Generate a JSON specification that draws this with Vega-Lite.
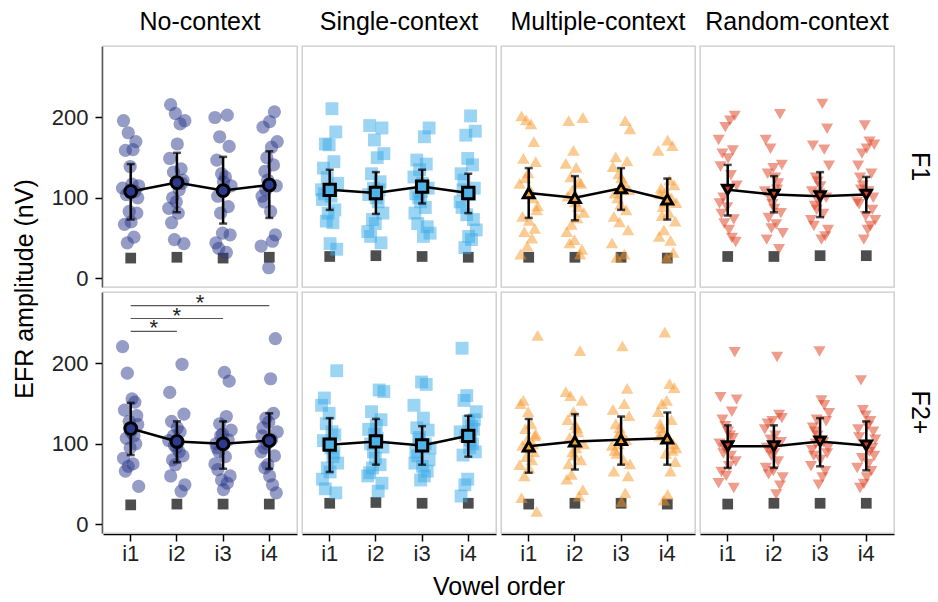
{
"$schema": "https://vega.github.io/schema/vega-lite/v6.json",
"background": "white",
"padding": {"left": 12, "top": 10, "right": 5, "bottom": 0},
"config": {"font": "Liberation Sans", "view": {"stroke": "#c9c9c9", "strokeWidth": 1.3, "fill": "white"}},
"data": {"values": "t,c,f,v,y,s,lo,hi,v2,m\np,N,F1,i1,112,2\np,N,F1,i1,196,3\np,N,F1,i1,67,4\np,N,F1,i1,159,5\np,N,F1,i1,104,6\np,N,F1,i1,44,7\np,N,F1,i1,181,8\np,N,F1,i1,83,9\np,N,F1,i1,139,10\np,N,F1,i1,70,11\np,N,F1,i1,117,12\np,N,F1,i1,160,13\np,N,F1,i1,51,14\np,N,F1,i1,108,15\np,N,F1,i1,170,16\np,N,F1,i1,81,17\np,N,F1,i1,100,18\np,N,F1,i1,115,19\np,N,F1,i2,87,2\np,N,F1,i2,149,3\np,N,F1,i2,216,4\np,N,F1,i2,69,5\np,N,F1,i2,100,6\np,N,F1,i2,132,7\np,N,F1,i2,48,8\np,N,F1,i2,205,9\np,N,F1,i2,95,10\np,N,F1,i2,167,11\np,N,F1,i2,81,12\np,N,F1,i2,110,13\np,N,F1,i2,192,14\np,N,F1,i2,136,15\np,N,F1,i2,118,16\np,N,F1,i2,122,17\np,N,F1,i2,43,18\np,N,F1,i2,196,19\np,N,F1,i3,200,2\np,N,F1,i3,44,3\np,N,F1,i3,147,4\np,N,F1,i3,102,5\np,N,F1,i3,37,6\np,N,F1,i3,176,7\np,N,F1,i3,81,8\np,N,F1,i3,130,9\np,N,F1,i3,56,10\np,N,F1,i3,120,11\np,N,F1,i3,110,12\np,N,F1,i3,126,13\np,N,F1,i3,32,14\np,N,F1,i3,203,15\np,N,F1,i3,89,16\np,N,F1,i3,164,17\np,N,F1,i3,54,18\np,N,F1,i3,115,19\np,N,F1,i4,40,2\np,N,F1,i4,102,3\np,N,F1,i4,188,4\np,N,F1,i4,95,5\np,N,F1,i4,133,6\np,N,F1,i4,110,7\np,N,F1,i4,150,8\np,N,F1,i4,122,9\np,N,F1,i4,13,10\np,N,F1,i4,195,11\np,N,F1,i4,83,12\np,N,F1,i4,163,13\np,N,F1,i4,46,14\np,N,F1,i4,141,15\np,N,F1,i4,207,16\np,N,F1,i4,54,17\np,N,F1,i4,115,18\np,N,F1,i4,170,19\np,S,F1,i1,110,2\np,S,F1,i1,98,3\np,S,F1,i1,137,4\np,S,F1,i1,105,5\np,S,F1,i1,167,6\np,S,F1,i1,71,7\np,S,F1,i1,125,8\np,S,F1,i1,81,9\np,S,F1,i1,166,10\np,S,F1,i1,43,11\np,S,F1,i1,102,12\np,S,F1,i1,211,13\np,S,F1,i1,69,14\np,S,F1,i1,145,15\np,S,F1,i1,85,16\np,S,F1,i1,182,17\np,S,F1,i1,36,18\np,S,F1,i1,118,19\np,S,F1,i2,58,2\np,S,F1,i2,104,3\np,S,F1,i2,190,4\np,S,F1,i2,52,5\np,S,F1,i2,130,6\np,S,F1,i2,73,7\np,S,F1,i2,112,8\np,S,F1,i2,172,9\np,S,F1,i2,68,10\np,S,F1,i2,100,11\np,S,F1,i2,150,12\np,S,F1,i2,95,13\np,S,F1,i2,110,14\np,S,F1,i2,120,15\np,S,F1,i2,44,16\np,S,F1,i2,187,17\np,S,F1,i2,81,18\np,S,F1,i2,155,19\np,S,F1,i3,126,2\np,S,F1,i3,81,3\np,S,F1,i3,105,4\np,S,F1,i3,147,5\np,S,F1,i3,68,6\np,S,F1,i3,100,7\np,S,F1,i3,135,8\np,S,F1,i3,95,9\np,S,F1,i3,108,10\np,S,F1,i3,118,11\np,S,F1,i3,52,12\np,S,F1,i3,176,13\np,S,F1,i3,88,14\np,S,F1,i3,142,15\np,S,F1,i3,64,16\np,S,F1,i3,112,17\np,S,F1,i3,187,18\np,S,F1,i3,56,19\np,S,F1,i4,95,2\np,S,F1,i4,130,3\np,S,F1,i4,88,4\np,S,F1,i4,110,5\np,S,F1,i4,122,6\np,S,F1,i4,38,7\np,S,F1,i4,178,8\np,S,F1,i4,79,9\np,S,F1,i4,149,10\np,S,F1,i4,52,11\np,S,F1,i4,104,12\np,S,F1,i4,202,13\np,S,F1,i4,48,14\np,S,F1,i4,141,15\np,S,F1,i4,73,16\np,S,F1,i4,112,17\np,S,F1,i4,183,18\np,S,F1,i4,60,19\np,M,F1,i1,118,1\np,M,F1,i1,30,2\np,M,F1,i1,202,3\np,M,F1,i1,77,4\np,M,F1,i1,149,5\np,M,F1,i1,58,6\np,M,F1,i1,125,7\np,M,F1,i1,197,8\np,M,F1,i1,40,9\np,M,F1,i1,131,10\np,M,F1,i1,72,11\np,M,F1,i1,110,12\np,M,F1,i1,192,13\np,M,F1,i1,50,14\np,M,F1,i1,100,15\np,M,F1,i1,170,16\np,M,F1,i1,62,17\np,M,F1,i1,145,18\np,M,F1,i1,85,19\np,M,F1,i1,90,20\np,M,F1,i2,143,1\np,M,F1,i2,58,2\np,M,F1,i2,102,3\np,M,F1,i2,196,4\np,M,F1,i2,44,5\np,M,F1,i2,126,6\np,M,F1,i2,67,7\np,M,F1,i2,110,8\np,M,F1,i2,159,9\np,M,F1,i2,48,10\np,M,F1,i2,95,11\np,M,F1,i2,138,12\np,M,F1,i2,75,13\np,M,F1,i2,89,14\np,M,F1,i2,120,15\np,M,F1,i2,30,16\np,M,F1,i2,118,17\np,M,F1,i2,36,18\np,M,F1,i2,200,19\np,M,F1,i2,82,20\np,M,F1,i3,44,1\np,M,F1,i3,139,2\np,M,F1,i3,77,3\np,M,F1,i3,106,4\np,M,F1,i3,151,5\np,M,F1,i3,26,6\np,M,F1,i3,100,7\np,M,F1,i3,130,8\np,M,F1,i3,70,9\np,M,F1,i3,92,10\np,M,F1,i3,125,11\np,M,F1,i3,115,12\np,M,F1,i3,120,13\np,M,F1,i3,30,14\np,M,F1,i3,196,15\np,M,F1,i3,85,16\np,M,F1,i3,146,17\np,M,F1,i3,60,18\np,M,F1,i3,110,19\np,M,F1,i3,186,20\np,M,F1,i4,159,1\np,M,F1,i4,52,2\np,M,F1,i4,105,3\np,M,F1,i4,112,4\np,M,F1,i4,78,5\np,M,F1,i4,89,6\np,M,F1,i4,60,7\np,M,F1,i4,95,8\np,M,F1,i4,108,9\np,M,F1,i4,26,10\np,M,F1,i4,172,11\np,M,F1,i4,82,12\np,M,F1,i4,122,13\np,M,F1,i4,47,14\np,M,F1,i4,100,15\np,M,F1,i4,165,16\np,M,F1,i4,32,17\np,M,F1,i4,116,18\np,M,F1,i4,71,19\np,M,F1,i4,94,20\np,R,F1,i1,172,1\np,R,F1,i1,93,2\np,R,F1,i1,139,3\np,R,F1,i1,80,4\np,R,F1,i1,155,5\np,R,F1,i1,100,6\np,R,F1,i1,68,7\np,R,F1,i1,188,8\np,R,F1,i1,110,9\np,R,F1,i1,88,10\np,R,F1,i1,149,11\np,R,F1,i1,60,12\np,R,F1,i1,196,13\np,R,F1,i1,128,14\np,R,F1,i1,50,15\np,R,F1,i1,159,16\np,R,F1,i1,73,17\np,R,F1,i1,202,18\np,R,F1,i1,45,19\np,R,F1,i1,115,20\np,R,F1,i2,108,1\np,R,F1,i2,172,2\np,R,F1,i2,48,3\np,R,F1,i2,130,4\np,R,F1,i2,75,5\np,R,F1,i2,100,6\np,R,F1,i2,161,7\np,R,F1,i2,62,8\np,R,F1,i2,92,9\np,R,F1,i2,137,10\np,R,F1,i2,86,11\np,R,F1,i2,125,12\np,R,F1,i2,67,13\np,R,F1,i2,110,14\np,R,F1,i2,118,15\np,R,F1,i2,36,16\np,R,F1,i2,204,17\np,R,F1,i2,81,18\np,R,F1,i2,141,19\np,R,F1,i2,56,20\np,R,F1,i3,72,1\np,R,F1,i3,108,2\np,R,F1,i3,165,3\np,R,F1,i3,65,4\np,R,F1,i3,90,5\np,R,F1,i3,125,6\np,R,F1,i3,85,7\np,R,F1,i3,120,8\np,R,F1,i3,95,9\np,R,F1,i3,105,10\np,R,F1,i3,114,11\np,R,F1,i3,48,12\np,R,F1,i3,217,13\np,R,F1,i3,80,14\np,R,F1,i3,160,15\np,R,F1,i3,52,16\np,R,F1,i3,100,17\np,R,F1,i3,186,18\np,R,F1,i3,60,19\np,R,F1,i3,140,20\np,R,F1,i4,95,1\np,R,F1,i4,140,2\np,R,F1,i4,92,3\np,R,F1,i4,125,4\np,R,F1,i4,110,5\np,R,F1,i4,155,6\np,R,F1,i4,115,7\np,R,F1,i4,48,8\np,R,F1,i4,190,9\np,R,F1,i4,77,10\np,R,F1,i4,161,11\np,R,F1,i4,60,12\np,R,F1,i4,108,13\np,R,F1,i4,170,14\np,R,F1,i4,65,15\np,R,F1,i4,130,16\np,R,F1,i4,85,17\np,R,F1,i4,100,18\np,R,F1,i4,166,19\np,R,F1,i4,72,20\np,N,F2+,i1,221,2\np,N,F2+,i1,82,3\np,N,F2+,i1,142,4\np,N,F2+,i1,66,5\np,N,F2+,i1,107,6\np,N,F2+,i1,188,7\np,N,F2+,i1,72,8\np,N,F2+,i1,128,9\np,N,F2+,i1,95,10\np,N,F2+,i1,115,11\np,N,F2+,i1,156,12\np,N,F2+,i1,75,13\np,N,F2+,i1,110,14\np,N,F2+,i1,152,15\np,N,F2+,i1,100,16\np,N,F2+,i1,135,17\np,N,F2+,i1,124,18\np,N,F2+,i1,47,19\np,N,F2+,i2,104,2\np,N,F2+,i2,164,3\np,N,F2+,i2,60,4\np,N,F2+,i2,128,5\np,N,F2+,i2,80,6\np,N,F2+,i2,110,7\np,N,F2+,i2,98,8\np,N,F2+,i2,74,9\np,N,F2+,i2,95,10\np,N,F2+,i2,120,11\np,N,F2+,i2,102,12\np,N,F2+,i2,90,13\np,N,F2+,i2,115,14\np,N,F2+,i2,41,15\np,N,F2+,i2,199,16\np,N,F2+,i2,85,17\np,N,F2+,i2,137,18\np,N,F2+,i2,49,19\np,N,F2+,i3,75,2\np,N,F2+,i3,100,3\np,N,F2+,i3,95,4\np,N,F2+,i3,68,5\np,N,F2+,i3,90,6\np,N,F2+,i3,125,7\np,N,F2+,i3,110,8\np,N,F2+,i3,55,9\np,N,F2+,i3,112,10\np,N,F2+,i3,43,11\np,N,F2+,i3,189,12\np,N,F2+,i3,84,13\np,N,F2+,i3,134,14\np,N,F2+,i3,51,15\np,N,F2+,i3,105,16\np,N,F2+,i3,178,17\np,N,F2+,i3,60,18\np,N,F2+,i3,117,19\np,N,F2+,i4,90,2\np,N,F2+,i4,110,3\np,N,F2+,i4,120,4\np,N,F2+,i4,95,5\np,N,F2+,i4,70,6\np,N,F2+,i4,132,7\np,N,F2+,i4,100,8\np,N,F2+,i4,74,9\np,N,F2+,i4,127,10\np,N,F2+,i4,60,11\np,N,F2+,i4,181,12\np,N,F2+,i4,105,13\np,N,F2+,i4,49,14\np,N,F2+,i4,138,15\np,N,F2+,i4,85,16\np,N,F2+,i4,231,17\np,N,F2+,i4,39,18\np,N,F2+,i4,115,19\np,S,F2+,i1,148,2\np,S,F2+,i1,56,3\np,S,F2+,i1,104,4\np,S,F2+,i1,157,5\np,S,F2+,i1,44,6\np,S,F2+,i1,125,7\np,S,F2+,i1,70,8\np,S,F2+,i1,100,9\np,S,F2+,i1,138,10\np,S,F2+,i1,65,11\np,S,F2+,i1,95,12\np,S,F2+,i1,115,13\np,S,F2+,i1,84,14\np,S,F2+,i1,89,15\np,S,F2+,i1,111,16\np,S,F2+,i1,39,17\np,S,F2+,i1,191,18\np,S,F2+,i1,76,19\np,S,F2+,i2,60,2\np,S,F2+,i2,118,3\np,S,F2+,i2,64,4\np,S,F2+,i2,100,5\np,S,F2+,i2,140,6\np,S,F2+,i2,70,7\np,S,F2+,i2,90,8\np,S,F2+,i2,112,9\np,S,F2+,i2,82,10\np,S,F2+,i2,123,11\np,S,F2+,i2,107,12\np,S,F2+,i2,41,13\np,S,F2+,i2,167,14\np,S,F2+,i2,74,15\np,S,F2+,i2,130,16\np,S,F2+,i2,51,17\np,S,F2+,i2,96,18\np,S,F2+,i2,165,19\np,S,F2+,i3,148,2\np,S,F2+,i3,76,3\np,S,F2+,i3,90,4\np,S,F2+,i3,120,5\np,S,F2+,i3,85,6\np,S,F2+,i3,105,7\np,S,F2+,i3,108,8\np,S,F2+,i3,55,9\np,S,F2+,i3,177,10\np,S,F2+,i3,72,11\np,S,F2+,i3,132,12\np,S,F2+,i3,60,13\np,S,F2+,i3,100,14\np,S,F2+,i3,174,15\np,S,F2+,i3,66,16\np,S,F2+,i3,117,17\np,S,F2+,i3,80,18\np,S,F2+,i3,95,19\np,S,F2+,i4,115,2\np,S,F2+,i4,35,3\np,S,F2+,i4,219,4\np,S,F2+,i4,86,5\np,S,F2+,i4,154,6\np,S,F2+,i4,49,7\np,S,F2+,i4,110,8\np,S,F2+,i4,160,9\np,S,F2+,i4,56,10\np,S,F2+,i4,128,11\np,S,F2+,i4,95,12\np,S,F2+,i4,105,13\np,S,F2+,i4,122,14\np,S,F2+,i4,100,15\np,S,F2+,i4,118,16\np,S,F2+,i4,130,17\np,S,F2+,i4,90,18\np,S,F2+,i4,140,19\np,M,F2+,i1,74,1\np,M,F2+,i1,150,2\np,M,F2+,i1,33,3\np,M,F2+,i1,98,4\np,M,F2+,i1,154,5\np,M,F2+,i1,60,6\np,M,F2+,i1,119,7\np,M,F2+,i1,84,8\np,M,F2+,i1,105,9\np,M,F2+,i1,140,10\np,M,F2+,i1,70,11\np,M,F2+,i1,95,12\np,M,F2+,i1,125,13\np,M,F2+,i1,80,14\np,M,F2+,i1,100,15\np,M,F2+,i1,90,16\np,M,F2+,i1,110,17\np,M,F2+,i1,112,18\np,M,F2+,i1,16,19\np,M,F2+,i1,235,20\np,M,F2+,i2,165,1\np,M,F2+,i2,56,2\np,M,F2+,i2,130,3\np,M,F2+,i2,75,4\np,M,F2+,i2,108,5\np,M,F2+,i2,160,6\np,M,F2+,i2,62,7\np,M,F2+,i2,90,8\np,M,F2+,i2,140,9\np,M,F2+,i2,86,10\np,M,F2+,i2,124,11\np,M,F2+,i2,95,12\np,M,F2+,i2,120,13\np,M,F2+,i2,115,14\np,M,F2+,i2,35,15\np,M,F2+,i2,216,16\np,M,F2+,i2,80,17\np,M,F2+,i2,154,18\np,M,F2+,i2,43,19\np,M,F2+,i2,100,20\np,M,F2+,i3,98,1\np,M,F2+,i3,143,2\np,M,F2+,i3,66,3\np,M,F2+,i3,92,4\np,M,F2+,i3,125,5\np,M,F2+,i3,88,6\np,M,F2+,i3,110,7\np,M,F2+,i3,100,8\np,M,F2+,i3,120,9\np,M,F2+,i3,115,10\np,M,F2+,i3,28,11\np,M,F2+,i3,222,12\np,M,F2+,i3,80,13\np,M,F2+,i3,150,14\np,M,F2+,i3,39,15\np,M,F2+,i3,105,16\np,M,F2+,i3,169,17\np,M,F2+,i3,60,18\np,M,F2+,i3,135,19\np,M,F2+,i3,75,20\np,M,F2+,i4,140,1\np,M,F2+,i4,110,2\np,M,F2+,i4,125,3\np,M,F2+,i4,120,4\np,M,F2+,i4,150,5\np,M,F2+,i4,115,6\np,M,F2+,i4,30,7\np,M,F2+,i4,239,8\np,M,F2+,i4,88,9\np,M,F2+,i4,154,10\np,M,F2+,i4,37,11\np,M,F2+,i4,108,12\np,M,F2+,i4,175,13\np,M,F2+,i4,66,14\np,M,F2+,i4,130,15\np,M,F2+,i4,92,16\np,M,F2+,i4,100,17\np,M,F2+,i4,170,18\np,M,F2+,i4,78,19\np,M,F2+,i4,95,20\np,R,F2+,i1,51,1\np,R,F2+,i1,100,2\np,R,F2+,i1,158,3\np,R,F2+,i1,65,4\np,R,F2+,i1,130,5\np,R,F2+,i1,88,6\np,R,F2+,i1,95,7\np,R,F2+,i1,122,8\np,R,F2+,i1,60,9\np,R,F2+,i1,92,10\np,R,F2+,i1,115,11\np,R,F2+,i1,72,12\np,R,F2+,i1,110,13\np,R,F2+,i1,85,14\np,R,F2+,i1,140,15\np,R,F2+,i1,107,16\np,R,F2+,i1,45,17\np,R,F2+,i1,214,18\np,R,F2+,i1,78,19\np,R,F2+,i1,155,20\np,R,F2+,i2,118,1\np,R,F2+,i2,70,2\np,R,F2+,i2,95,3\np,R,F2+,i2,125,4\np,R,F2+,i2,62,5\np,R,F2+,i2,92,6\np,R,F2+,i2,105,7\np,R,F2+,i2,85,8\np,R,F2+,i2,128,9\np,R,F2+,i2,66,10\np,R,F2+,i2,88,11\np,R,F2+,i2,110,12\np,R,F2+,i2,37,13\np,R,F2+,i2,208,14\np,R,F2+,i2,78,15\np,R,F2+,i2,136,16\np,R,F2+,i2,48,17\np,R,F2+,i2,102,18\np,R,F2+,i2,132,19\np,R,F2+,i2,58,20\np,R,F2+,i3,72,1\np,R,F2+,i3,92,2\np,R,F2+,i3,120,3\np,R,F2+,i3,85,4\np,R,F2+,i3,115,5\np,R,F2+,i3,100,6\np,R,F2+,i3,130,7\np,R,F2+,i3,110,8\np,R,F2+,i3,49,9\np,R,F2+,i3,215,10\np,R,F2+,i3,80,11\np,R,F2+,i3,154,12\np,R,F2+,i3,58,13\np,R,F2+,i3,102,14\np,R,F2+,i3,148,15\np,R,F2+,i3,66,16\np,R,F2+,i3,128,17\np,R,F2+,i3,88,18\np,R,F2+,i3,95,19\np,R,F2+,i3,138,20\np,R,F2+,i4,70,1\np,R,F2+,i4,118,2\np,R,F2+,i4,108,3\np,R,F2+,i4,45,4\np,R,F2+,i4,179,5\np,R,F2+,i4,82,6\np,R,F2+,i4,142,7\np,R,F2+,i4,50,8\np,R,F2+,i4,98,9\np,R,F2+,i4,135,10\np,R,F2+,i4,58,11\np,R,F2+,i4,122,12\np,R,F2+,i4,75,13\np,R,F2+,i4,90,14\np,R,F2+,i4,128,15\np,R,F2+,i4,66,16\np,R,F2+,i4,95,17\np,R,F2+,i4,115,18\np,R,F2+,i4,85,19\np,R,F2+,i4,105,20\nm,N,F1,i1,108,,73,142\nm,N,F1,i2,119,,82,156\nm,N,F1,i3,109,,68,151\nm,N,F1,i4,116,,75,158\nm,S,F1,i1,110,,85,135\nm,S,F1,i2,106,,80,132\nm,S,F1,i3,114,,93,135\nm,S,F1,i4,106,,81,130\nm,M,F1,i1,106,,75,137\nm,M,F1,i2,100,,72,127\nm,M,F1,i3,112,,85,137\nm,M,F1,i4,98,,73,124\nm,R,F1,i1,110,,78,141\nm,R,F1,i2,104,,82,127\nm,R,F1,i3,102,,76,132\nm,R,F1,i4,104,,82,126\nm,N,F2+,i1,119,,86,151\nm,N,F2+,i2,103,,77,128\nm,N,F2+,i3,100,,69,128\nm,N,F2+,i4,104,,69,138\nm,S,F2+,i1,99,,65,132\nm,S,F2+,i2,103,,74,131\nm,S,F2+,i3,98,,74,122\nm,S,F2+,i4,110,,84,135\nm,M,F2+,i1,97,,64,131\nm,M,F2+,i2,103,,68,137\nm,M,F2+,i3,105,,74,134\nm,M,F2+,i4,107,,74,139\nm,R,F2+,i1,97,,70,123\nm,R,F2+,i2,97,,70,123\nm,R,F2+,i3,103,,72,132\nm,R,F2+,i4,98,,67,128\nn,N,F1,i1,25\nn,N,F1,i2,26\nn,N,F1,i3,25\nn,N,F1,i4,26\nn,S,F1,i1,27\nn,S,F1,i2,28\nn,S,F1,i3,27\nn,S,F1,i4,26\nn,M,F1,i1,26\nn,M,F1,i2,26\nn,M,F1,i3,26\nn,M,F1,i4,25\nn,R,F1,i1,27\nn,R,F1,i2,27\nn,R,F1,i3,28\nn,R,F1,i4,28\nn,N,F2+,i1,24\nn,N,F2+,i2,25\nn,N,F2+,i3,25\nn,N,F2+,i4,25\nn,S,F2+,i1,26\nn,S,F2+,i2,27\nn,S,F2+,i3,26\nn,S,F2+,i4,26\nn,M,F2+,i1,25\nn,M,F2+,i2,26\nn,M,F2+,i3,26\nn,M,F2+,i4,25\nn,R,F2+,i1,25\nn,R,F2+,i2,26\nn,R,F2+,i3,26\nn,R,F2+,i4,26\ng,N,F2+,i1,240,,,,i2,i1\ng,N,F2+,i1,256,,,,i3,i2\ng,N,F2+,i1,272,,,,i4,i2", "format": {"type": "csv", "parse": {"y": "number", "s": "number", "lo": "number", "hi": "number"}}},
"facet": {
  "row": {"field": "f", "type": "nominal", "sort": ["F1", "F2+"], "title": "EFR amplitude (nV)",
    "header": {"titleOrient": "left", "titleFontSize": 25, "titleFontWeight": "normal", "titleColor": "black", "titlePadding": 3,
      "labelOrient": "right", "labelAngle": 90, "labelFontSize": 25, "labelColor": "black", "labelPadding": 12}},
  "column": {"field": "c", "type": "nominal", "sort": ["N", "S", "M", "R"], "title": "Vowel order",
    "header": {"titleOrient": "bottom", "titleFontSize": 25, "titleFontWeight": "normal", "titleColor": "black", "titlePadding": 1,
      "labelOrient": "top", "labelFontSize": 25, "labelColor": "black", "labelPadding": 10,
      "labelExpr": "datum.value == 'N' ? 'No-context' : datum.value == 'S' ? 'Single-context' : datum.value == 'M' ? 'Multiple-context' : 'Random-context'"}}
},
"spacing": {"row": 3, "column": 3},
"spec": {
  "width": 194,
  "height": 241,
  "encoding": {
    "x": {"field": "v", "type": "ordinal",
      "scale": {"type": "band", "domain": ["i1", "i2", "i3", "i4"], "paddingInner": 0, "paddingOuter": 0.1},
      "axis": {"title": null, "labelAngle": 0, "labelFontSize": 22, "labelColor": "#222", "tickColor": "black", "tickWidth": 1.5, "tickSize": 7, "domainColor": "black", "domainWidth": 1.5, "labelPadding": 2}}
  },
  "resolve": {"scale": {"size": "independent"}},
  "layer": [
    {"transform": [{"filter": "datum.t == 'n'"}],
     "mark": {"type": "point", "shape": "square", "filled": true, "color": "#4d4d4d", "opacity": 1, "size": 115},
     "encoding": {"y": {"field": "y", "type": "quantitative", "scale": {"domain": [-11, 289], "nice": false, "zero": false},
        "axis": {"title": null, "values": [0, 100, 200], "grid": false, "labelFontSize": 22, "labelColor": "#222", "tickColor": "black", "tickWidth": 1.5, "tickSize": 7, "domainColor": "black", "domainWidth": 1.5, "labelPadding": 7}}}},
    {"transform": [{"filter": "datum.t == 'p'"}],
     "mark": {"type": "point", "filled": true, "opacity": 0.5},
     "encoding": {
       "y": {"field": "y", "type": "quantitative", "scale": {"domain": [-11, 289], "nice": false, "zero": false}},
       "xOffset": {"field": "s", "type": "quantitative", "scale": {"domain": [1, 20], "range": [14, 32]}},
       "color": {"field": "c", "type": "nominal", "scale": {"domain": ["N", "S", "M", "R"], "range": ["#2b3a8c", "#3aa9e8", "#f7972a", "#dd3b1c"]}, "legend": null},
       "shape": {"field": "c", "type": "nominal", "scale": {"domain": ["N", "S", "M", "R"], "range": ["circle", "square", "triangle-up", "triangle-down"]}, "legend": null},
       "size": {"field": "c", "type": "nominal", "scale": {"domain": ["N", "S", "M", "R"], "range": [175, 145, 270, 270]}, "legend": null}}},
    {"transform": [{"filter": "datum.t == 'm'"}],
     "mark": {"type": "rule", "color": "black", "strokeWidth": 2.5},
     "encoding": {"y": {"field": "lo", "type": "quantitative", "scale": {"domain": [-11, 289], "nice": false, "zero": false}}, "y2": {"field": "hi"}}},
    {"transform": [{"filter": "datum.t == 'm'"}],
     "mark": {"type": "tick", "orient": "horizontal", "color": "black", "thickness": 2.5, "size": 8},
     "encoding": {"y": {"field": "lo", "type": "quantitative", "scale": {"domain": [-11, 289], "nice": false, "zero": false}}}},
    {"transform": [{"filter": "datum.t == 'm'"}],
     "mark": {"type": "tick", "orient": "horizontal", "color": "black", "thickness": 2.5, "size": 8},
     "encoding": {"y": {"field": "hi", "type": "quantitative", "scale": {"domain": [-11, 289], "nice": false, "zero": false}}}},
    {"transform": [{"filter": "datum.t == 'm'"}],
     "mark": {"type": "line", "color": "black", "strokeWidth": 2.5},
     "encoding": {"y": {"field": "y", "type": "quantitative", "scale": {"domain": [-11, 289], "nice": false, "zero": false}}}},
    {"transform": [{"filter": "datum.t == 'm'"}],
     "mark": {"type": "point", "filled": true, "opacity": 1, "stroke": "black", "strokeWidth": 3},
     "encoding": {
       "y": {"field": "y", "type": "quantitative", "scale": {"domain": [-11, 289], "nice": false, "zero": false}},
       "fill": {"field": "c", "type": "nominal", "scale": {"domain": ["N", "S", "M", "R"], "range": ["#2b3a8c", "#4fb3e8", "#f7a52e", "#dc401f"]}, "legend": null},
       "shape": {"field": "c", "type": "nominal", "scale": {"domain": ["N", "S", "M", "R"], "range": ["circle", "square", "triangle-up", "triangle-down"]}, "legend": null},
       "size": {"field": "c", "type": "nominal", "scale": {"domain": ["N", "S", "M", "R"], "range": [140, 105, 210, 200]}, "legend": null}}},
    {"transform": [{"filter": "datum.t == 'g'"}],
     "mark": {"type": "rule", "color": "#555555", "strokeWidth": 1.2},
     "encoding": {"x2": {"field": "v2"}, "y": {"field": "y", "type": "quantitative", "scale": {"domain": [-11, 289], "nice": false, "zero": false}}}},
    {"transform": [{"filter": "datum.t == 'g' && datum.v2 != 'i3'"}],
     "mark": {"type": "text", "text": "*", "fontSize": 22, "baseline": "middle", "dy": -3, "color": "#222"},
     "encoding": {"x": {"field": "m", "type": "ordinal", "bandPosition": 1}, "y": {"field": "y", "type": "quantitative", "scale": {"domain": [-11, 289], "nice": false, "zero": false}}}},
    {"transform": [{"filter": "datum.t == 'g' && datum.v2 == 'i3'"}],
     "mark": {"type": "text", "text": "*", "fontSize": 22, "baseline": "middle", "dy": -3, "color": "#222"},
     "encoding": {"x": {"field": "m", "type": "ordinal", "bandPosition": 0.5}, "y": {"field": "y", "type": "quantitative", "scale": {"domain": [-11, 289], "nice": false, "zero": false}}}}
  ]
}
}
